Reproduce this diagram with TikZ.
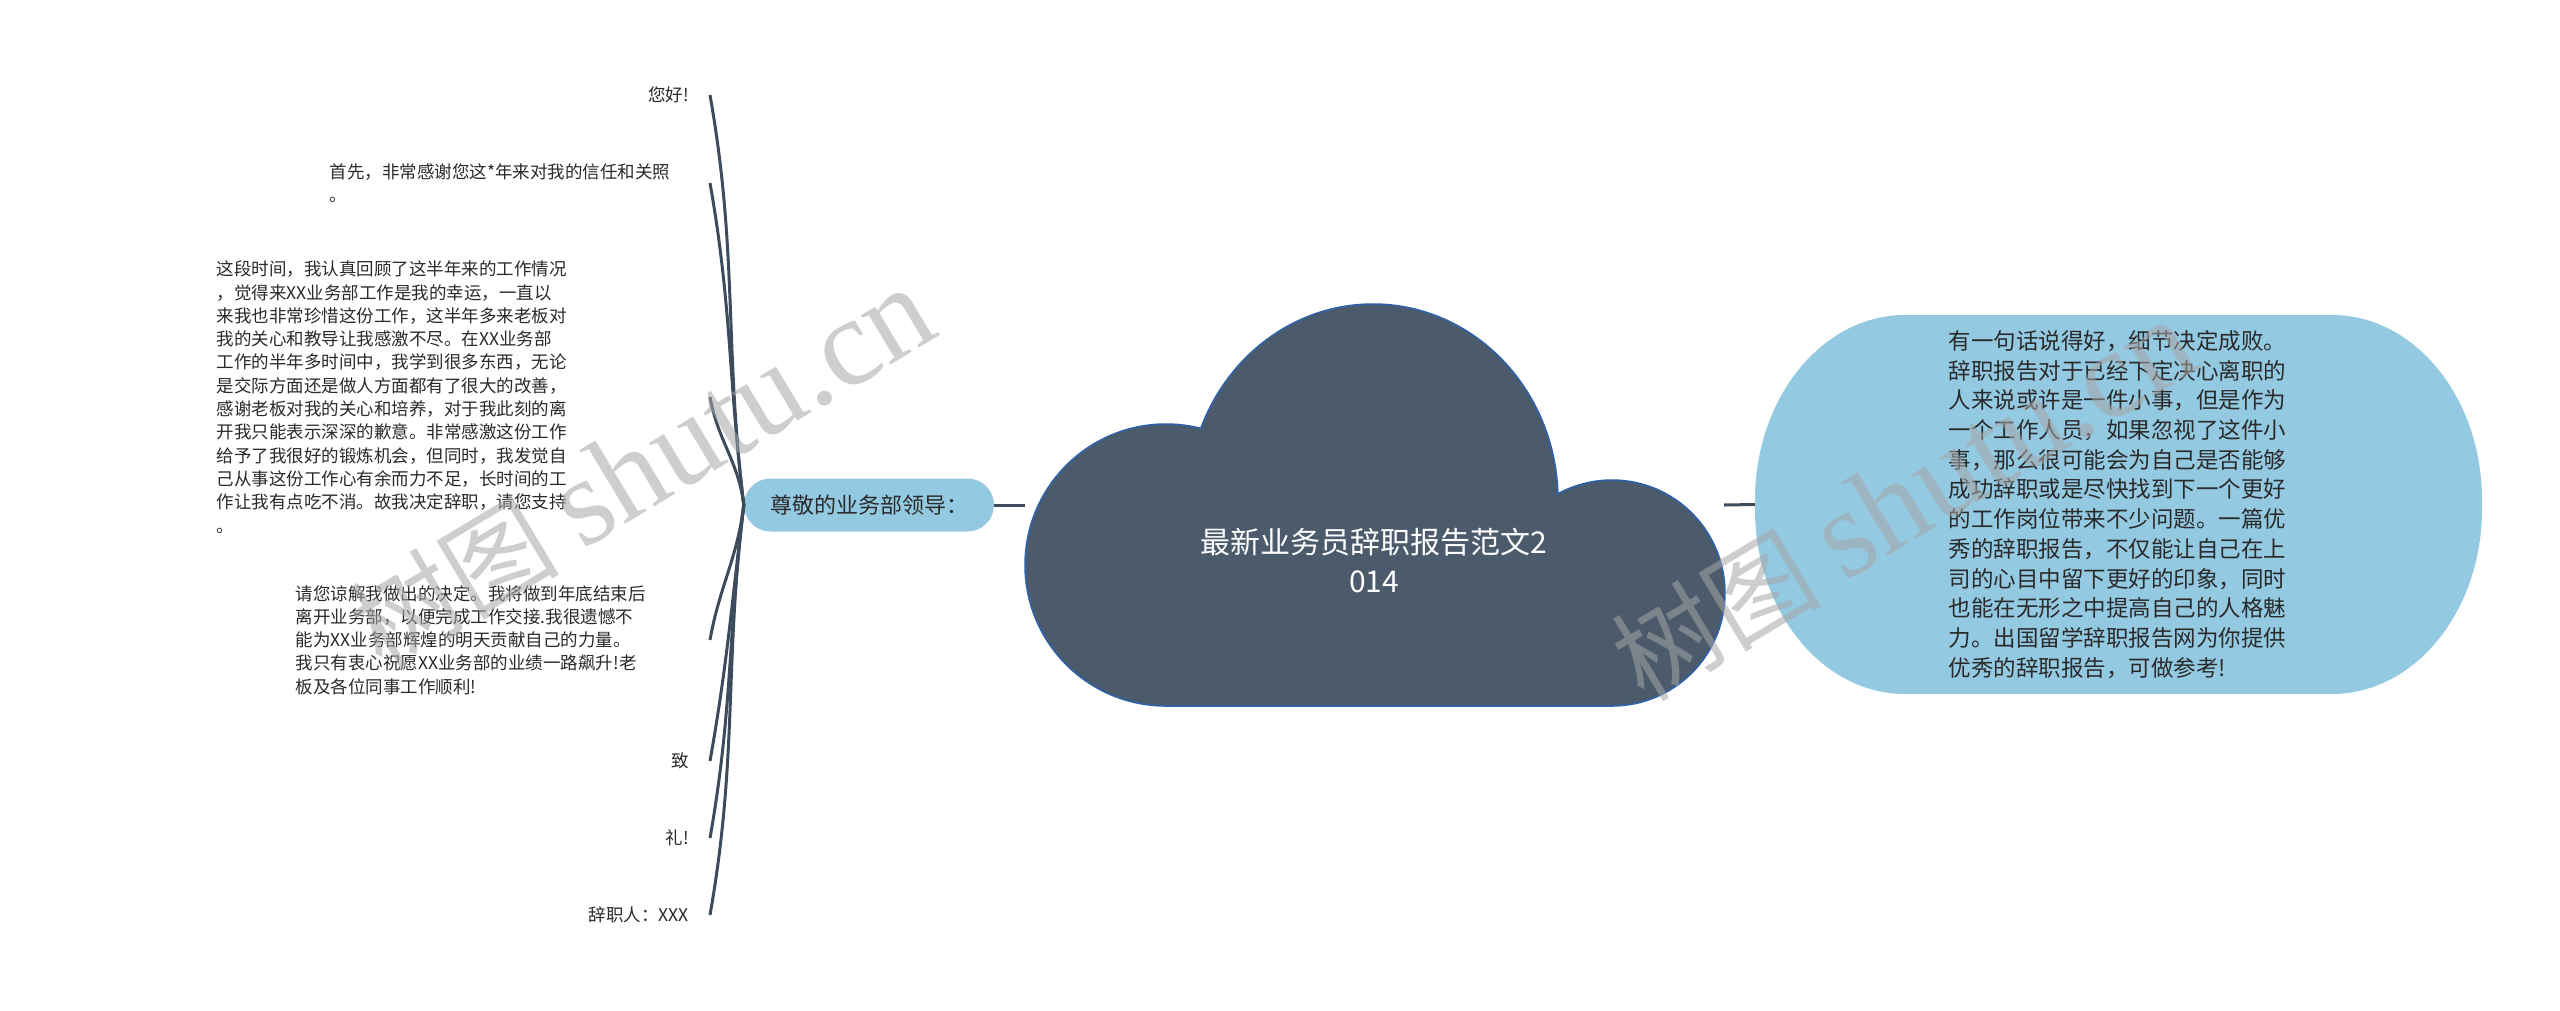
\documentclass[tikz,border=0pt]{standalone}
\usepackage{fontspec}
\setmainfont{Noto Sans CJK SC}
\newfontfamily\wmserif{Liberation Serif}
\usetikzlibrary{shapes.misc}
\definecolor{cloudfill}{HTML}{4B5B6B}
\definecolor{cloudedge}{HTML}{2F62A8}
\definecolor{pillblue}{HTML}{94C9E2}
\definecolor{linec}{HTML}{3D4C5C}
\definecolor{txt}{HTML}{2A2A2A}
\begin{document}
\begin{tikzpicture}[x=1pt,y=-1pt,
  conn/.style={draw=linec, line width=3pt},
  leaf/.style={anchor=east, inner xsep=21pt, inner ysep=2pt, text=txt,
    font=\fontsize{17.5}{23.3}\selectfont},
  bubble/.style={rounded rectangle, fill=pillblue, text=txt, inner sep=0pt},
  wmark/.style={text=black!35, opacity=0.55, rotate=31, anchor=base west,
    font=\fontsize{105}{110}\selectfont}]
\useasboundingbox (0,0) rectangle (2560,1010);
\fill[white] (0,0) rectangle (2560,1010);

% cloud (central topic)
\begin{scope}
  \draw[draw=cloudedge, line width=3.5pt, fill=cloudfill] (1166,565) circle[radius=140pt];
  \draw[draw=cloudedge, line width=3.5pt, fill=cloudfill] (1373,500) ellipse[x radius=184pt, y radius=195pt];
  \draw[draw=cloudedge, line width=3.5pt, fill=cloudfill] (1612,593) circle[radius=112pt];
  \draw[draw=cloudedge, line width=3.5pt, fill=cloudfill] (1166,560) rectangle (1612,705);
  \fill[cloudfill] (1166,565) circle[radius=140pt];
  \fill[cloudfill] (1373,500) ellipse[x radius=184pt, y radius=195pt];
  \fill[cloudfill] (1612,593) circle[radius=112pt];
  \fill[cloudfill] (1166,560) rectangle (1612,705);
\end{scope}
\node[minimum width=699pt, minimum height=400pt, inner sep=0pt] (root) at (1374.5,505) {};
\node[text=white, align=center, font=\fontsize{30}{39}\selectfont] (title) at (1374,560)
  {最新业务员辞职报告范文2\\014};

% left main branch
\node[bubble, minimum width=250pt, minimum height=53pt,
  font=\fontsize{22}{26}\selectfont] (pill) at (869,505) {尊敬的业务部领导：};

% right detail bubble (shape with elliptical corners)
\fill[pillblue] (1905,315) -- (2332,315)
  arc[start angle=90, end angle=0, x radius=150pt, y radius=185pt] -- (2482,509)
  arc[start angle=0, end angle=-90, x radius=150pt, y radius=185pt] -- (1905,694)
  arc[start angle=270, end angle=180, x radius=150pt, y radius=185pt] -- (1755,500)
  arc[start angle=180, end angle=90, x radius=150pt, y radius=185pt] -- cycle;
\node[minimum width=727pt, minimum height=379pt, inner sep=0pt,
  text width=340pt, align=left, text=txt, font=\fontsize{22.5}{29.7}\selectfont] (rnode) at (2118.5,504.5)
  {有一句话说得好，细节决定成败。\\
   辞职报告对于已经下定决心离职的\\
   人来说或许是一件小事，但是作为\\
   一个工作人员，如果忽视了这件小\\
   事，那么很可能会为自己是否能够\\
   成功辞职或是尽快找到下一个更好\\
   的工作岗位带来不少问题。一篇优\\
   秀的辞职报告，不仅能让自己在上\\
   司的心目中留下更好的印象，同时\\
   也能在无形之中提高自己的人格魅\\
   力。出国留学辞职报告网为你提供\\
   优秀的辞职报告，可做参考!};

% leaves
\node[leaf] (l1) at (710,95) {您好!};
\node[leaf, text width=359pt, align=left] (l2) at (710,183)
  {首先，非常感谢您这*年来对我的信任和关照\\。};
\node[leaf, text width=472pt, align=left] (l3) at (710,397)
  {这段时间，我认真回顾了这半年来的工作情况\\
   ，觉得来XX业务部工作是我的幸运，一直以\\
   来我也非常珍惜这份工作，这半年多来老板对\\
   我的关心和教导让我感激不尽。在XX业务部\\
   工作的半年多时间中，我学到很多东西，无论\\
   是交际方面还是做人方面都有了很大的改善，\\
   感谢老板对我的关心和培养，对于我此刻的离\\
   开我只能表示深深的歉意。非常感激这份工作\\
   给予了我很好的锻炼机会，但同时，我发觉自\\
   己从事这份工作心有余而力不足，长时间的工\\
   作让我有点吃不消。故我决定辞职，请您支持\\
   。};
\node[leaf, text width=393pt, align=left] (l4) at (710,640)
  {请您谅解我做出的决定。我将做到年底结束后\\
   离开业务部，以便完成工作交接.我很遗憾不\\
   能为XX业务部辉煌的明天贡献自己的力量。\\
   我只有衷心祝愿XX业务部的业绩一路飙升!老\\
   板及各位同事工作顺利!};
\node[leaf] (l5) at (710,761) {致};
\node[leaf] (l6) at (710,838) {礼!};
\node[leaf] (l7) at (710,915) {辞职人：XXX};

% connectors
\draw[conn] (pill.east) -- (root.west);
\draw[conn] (root.east) -- (rnode.west);
\foreach \n in {l1,l2,l3}
  \draw[conn] (pill.west) to[out=97, in=-80] (\n.east);
\foreach \n in {l4,l5,l6,l7}
  \draw[conn] (pill.west) to[out=-97, in=80] (\n.east);

% watermarks
\node[wmark] (wm1) at (379,673) {树图 {\wmserif\fontsize{125}{130}\selectfont shutu.cn}};
\node[wmark] (wm2) at (1641,705) {树图 {\wmserif\fontsize{125}{130}\selectfont shutu.cn}};
\end{tikzpicture}
\end{document}
